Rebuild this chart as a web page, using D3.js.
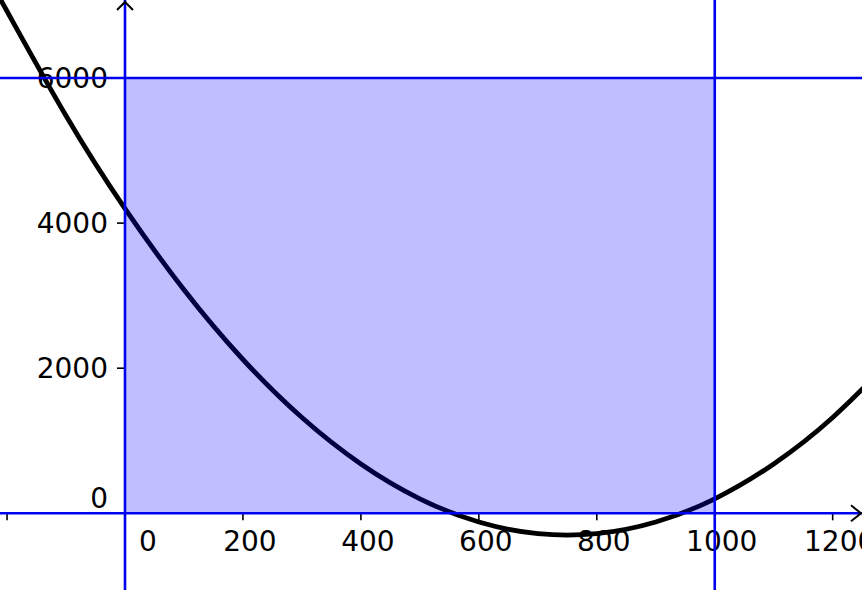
<!DOCTYPE html>
<html>
<head>
<meta charset="utf-8">
<script src="https://cdn.jsdelivr.net/npm/d3@7"></script>
<style>
  html, body { margin: 0; padding: 0; background: #ffffff; }
  svg { display: block; }
</style>
</head>
<body>
<svg id="chart" width="862" height="590"></svg>
<script>
// ---- data ----
const curveX = [-220, -200, -100, 0, 100, 200, 300, 400, 500, 600, 700, 800, 900, 1000, 1100, 1200, 1300];
const curveY = [7200, 6920, 5480, 4200, 3080, 2120, 1320, 680, 200, -120, -280, -280, -120, 200, 680, 1320, 2120];
const xTicks = [-200, 200, 400, 600, 800, 1000, 1200];
const xTickLabels = ["0", "200", "400", "600", "800", "1000", "1200"];
const xLabelValues = [0, 200, 400, 600, 800, 1000, 1200];
const yTicks = [2000, 4000, 6000];
const yLabelValues = [0, 2000, 4000, 6000];
const yTickLabels = ["0", "2000", "4000", "6000"];
const rectX = [0, 1000];
const rectY = [0, 6000];
const vLines = [0, 1000];
const hLines = [0, 6000];

const W = 862, H = 590;
const x = d3.scaleLinear().domain([-211.95, 1249.7]).range([0, W]);
const y = d3.scaleLinear().domain([-1057, 7075]).range([H, 0]);

const svg = d3.select("#chart");
const font = "'DejaVu Sans', sans-serif";

svg.append("defs").append("clipPath").attr("id", "clip")
  .append("rect").attr("x", 0).attr("y", 0).attr("width", W).attr("height", H);

// tick marks
svg.append("g").selectAll("line").data(xTicks).join("line")
  .attr("x1", d => x(d)).attr("x2", d => x(d))
  .attr("y1", y(0)).attr("y2", y(0) + 7)
  .attr("stroke", "#000").attr("stroke-width", 1.6);
svg.append("g").selectAll("line").data(yTicks).join("line")
  .attr("x1", x(0) - 8).attr("x2", x(0))
  .attr("y1", d => y(d)).attr("y2", d => y(d))
  .attr("stroke", "#000").attr("stroke-width", 1.6);

// tick labels
svg.append("g").selectAll("text").data(xLabelValues).join("text")
  .attr("x", (d, i) => d === 0 ? x(d) + 23 : x(d) + 7)
  .attr("y", y(0) + 38)
  .attr("text-anchor", "middle")
  .attr("font-family", font).attr("font-size", 28).attr("fill", "#000")
  .text((d, i) => xTickLabels[i]);
svg.append("g").selectAll("text").data(yLabelValues).join("text")
  .attr("x", x(0) - 17)
  .attr("y", d => d === 0 ? y(d) - 5 : y(d) + 10)
  .attr("text-anchor", "end")
  .attr("font-family", font).attr("font-size", 28).attr("fill", "#000")
  .text((d, i) => yTickLabels[i]);

// curve
const pts = curveX.map((v, i) => [v, curveY[i]]);
svg.append("path")
  .datum(pts)
  .attr("clip-path", "url(#clip)")
  .attr("d", d3.line().x(d => x(d[0])).y(d => y(d[1])).curve(d3.curveNatural))
  .attr("fill", "none").attr("stroke", "#000").attr("stroke-width", 4.8);

// shaded rectangle
svg.append("rect")
  .attr("x", x(rectX[0])).attr("y", y(rectY[1]))
  .attr("width", x(rectX[1]) - x(rectX[0]))
  .attr("height", y(rectY[0]) - y(rectY[1]))
  .attr("fill", "#0000ff").attr("fill-opacity", 0.25);

// blue lines
svg.append("g").selectAll("line").data(vLines).join("line")
  .attr("x1", d => x(d)).attr("x2", d => x(d))
  .attr("y1", 0).attr("y2", H)
  .attr("stroke", "#0000ee").attr("stroke-width", 2.6);
svg.append("g").selectAll("line").data(hLines).join("line")
  .attr("x1", 0).attr("x2", W)
  .attr("y1", d => y(d)).attr("y2", d => y(d))
  .attr("stroke", "#0000ee").attr("stroke-width", 2.6);

// axis arrows
const ax = x(0), ay = y(0);
svg.append("path")
  .attr("d", `M${ax - 8},${10} L${ax},${2} L${ax + 8},${10}`)
  .attr("fill", "none").attr("stroke", "#000").attr("stroke-width", 2);
svg.append("path")
  .attr("d", `M${W - 11},${ay - 8} L${W - 1},${ay} L${W - 11},${ay + 8}`)
  .attr("fill", "none").attr("stroke", "#000").attr("stroke-width", 2);
</script>
</body>
</html>
